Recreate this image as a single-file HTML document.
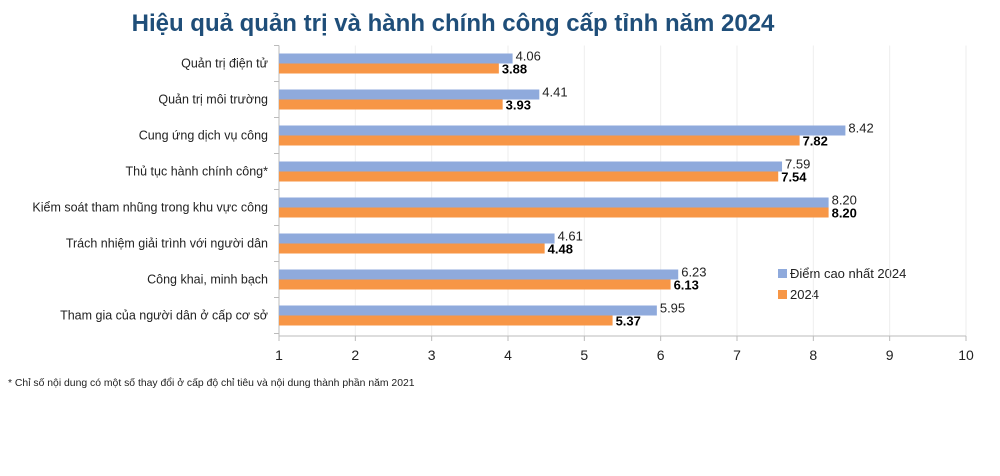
<!DOCTYPE html>
<html><head><meta charset="utf-8"><style>
body{margin:0;background:#fff;width:1000px;height:471px;overflow:hidden;font-family:"Liberation Sans",sans-serif}
</style></head><body>
<svg id="c" width="1000" height="471">
<text x="453" y="31" text-anchor="middle" font-size="24" font-weight="bold" fill="#1f4e79">Hiệu quả quản trị và hành chính công cấp tỉnh năm 2024</text>
<text x="8" y="386" font-size="10.4" fill="#222">* Chỉ số nội dung có một số thay đổi ở cấp độ chỉ tiêu và nội dung thành phần năm 2021</text>
<g>
<rect x="778" y="269" width="9" height="9" fill="#8faadc"/>
<text x="790" y="278" font-size="13" fill="#222">Điểm cao nhất 2024</text>
<rect x="778" y="290" width="9" height="9" fill="#f79646"/>
<text x="790" y="299" font-size="13" fill="#222">2024</text>
</g>
</svg>
<script>
const categories=["Quản trị điện tử","Quản trị môi trường","Cung ứng dịch vụ công","Thủ tục hành chính công*","Kiểm soát tham nhũng trong khu vực công","Trách nhiệm giải trình với người dân","Công khai, minh bạch","Tham gia của người dân ở cấp cơ sở"];
const maxValues=[4.06,4.41,8.42,7.59,8.20,4.61,6.23,5.95];
const values2024=[3.88,3.93,7.82,7.54,8.20,4.48,6.13,5.37];
const ticks=[1,2,3,4,5,6,7,8,9,10];
const svg=document.getElementById('c'),NS='http://www.w3.org/2000/svg';
const x=v=>279+(v-1)*(966-279)/9;
const top0=45.5,band=36,axisY=336;
const yb=i=>top0+i*band;
function mk(t,a,p){const e=document.createElementNS(NS,t);for(const k in a)e.setAttribute(k,a[k]);(p||svg).appendChild(e);return e;}
ticks.forEach(t=>{
 if(t>1){const g=mk('line',{x1:x(t),x2:x(t),y1:top0,y2:axisY,stroke:'#eeeeee'});
 
 }
 const tk=mk('line',{x1:x(t),x2:x(t),y1:axisY,y2:axisY+5,stroke:'#bbb'});
 
 
 const l=mk('text',{x:x(t),y:axisY+24,'text-anchor':'middle','font-size':14,fill:'#222'});l.textContent=t;
 
 
});
const ax=mk('line',{x1:279,x2:966,y1:axisY,y2:axisY,stroke:'#bbb'});


const ay=mk('line',{x1:279,x2:279,y1:top0,y2:axisY,stroke:'#bbb'});


categories.forEach((c,i)=>{
 const y0=yb(i),cy=y0+band/2;
 const tk=mk('line',{x1:274,x2:279,y1:y0,y2:y0,stroke:'#bbb'});
 
 
 const l=mk('text',{x:268,y:cy+4,'text-anchor':'end','font-size':12.5,fill:'#222'});l.textContent=c;
 
 
 const b1=mk('rect',{x:279,y:cy-10,width:x(maxValues[i])-279,height:10,fill:'#8faadc'});
 
 
 const b2=mk('rect',{x:279,y:cy,width:x(values2024[i])-279,height:10,fill:'#f79646'});
 
 
 const t1=mk('text',{x:x(maxValues[i])+3,y:cy-3,'font-size':13,fill:'#222'});t1.textContent=maxValues[i].toFixed(2);
 
 
 const t2=mk('text',{x:x(values2024[i])+3,y:cy+10,'font-size':13,'font-weight':'bold',fill:'#000'});t2.textContent=values2024[i].toFixed(2);
 
 
});
const le=mk('line',{x1:274,x2:279,y1:yb(8),y2:yb(8),stroke:'#bbb'});


</script>
</body></html>
